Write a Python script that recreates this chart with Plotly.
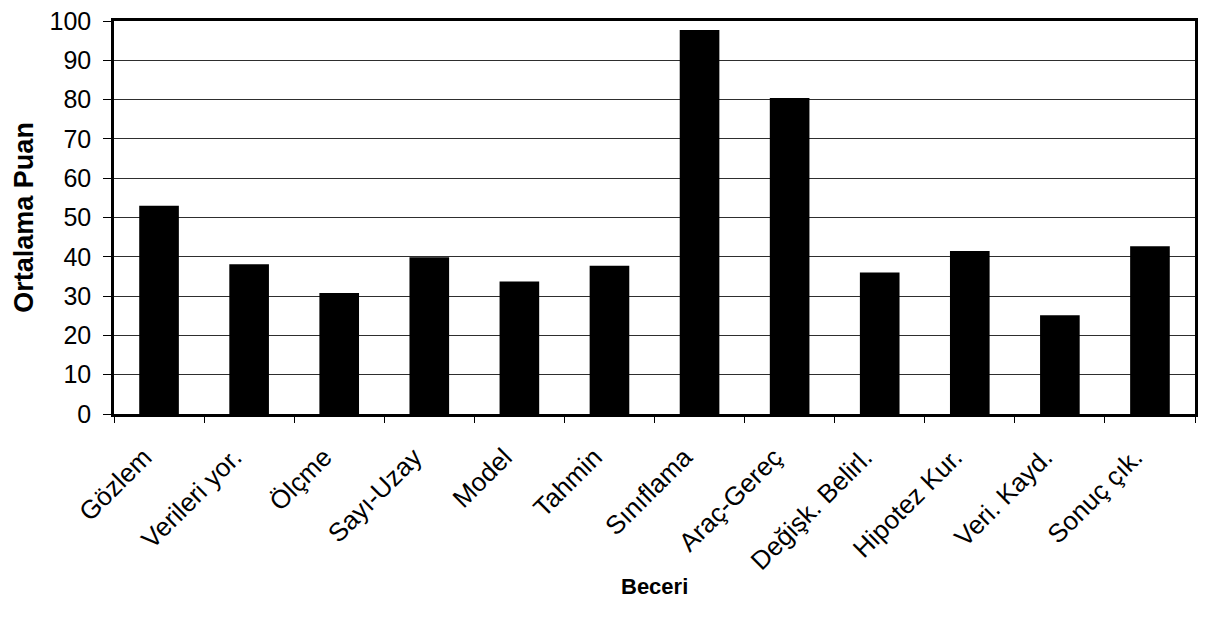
import plotly.graph_objects as go

# Mean score per science process skill
skills = [
    "Gözlem", "Verileri yor.", "Ölçme", "Sayı-Uzay", "Model", "Tahmin",
    "Sınıflama", "Araç-Gereç", "Değişk. Belirl.", "Hipotez Kur.",
    "Veri. Kayd.", "Sonuç çık.",
]
mean_scores = [53.0, 38.1, 30.8, 39.9, 33.7, 37.7, 97.7, 80.4, 36.0, 41.5, 25.1, 42.7]

y_ticks = list(range(0, 101, 10))

FONT = "Liberation Sans, Arial, sans-serif"

fig = go.Figure(
    go.Bar(
        x=skills,
        y=mean_scores,
        marker=dict(color="black", line=dict(width=0)),
        width=0.44,
    )
)

fig.update_layout(
    width=1205,
    height=624,
    margin=dict(l=114, r=7, t=17, b=210),
    paper_bgcolor="white",
    plot_bgcolor="white",
    showlegend=False,
    font=dict(family=FONT, color="black"),
)

fig.update_yaxes(
    range=[0, 100],
    tickvals=y_ticks,
    ticks="outside",
    ticklen=8,
    tickwidth=1,
    tickcolor="black",
    tickfont=dict(size=25, family=FONT, color="black"),
    ticklabelstandoff=7,
    showgrid=True,
    gridcolor="#2e2e2e",
    gridwidth=1,
    showline=True,
    linecolor="black",
    linewidth=2.5,
    mirror=True,
    zeroline=False,
)

fig.update_xaxes(
    type="category",
    tickson="boundaries",
    ticks="outside",
    ticklen=6,
    tickwidth=1,
    tickcolor="black",
    tickangle=-45,
    tickfont=dict(size=26, family=FONT, color="black"),
    ticklabelstandoff=15,
    ticklabelshift=-15,
    showline=True,
    linecolor="black",
    linewidth=2.5,
    mirror=True,
    showgrid=False,
)

# Axis titles
fig.add_annotation(
    text="<b>Ortalama Puan</b>", textangle=-90,
    xref="paper", yref="paper", x=-0.084, y=0.5,
    xanchor="center", yanchor="middle", showarrow=False,
    font=dict(size=27, family=FONT, color="black"),
)
fig.add_annotation(
    text="<b>Beceri</b>",
    xref="paper", yref="paper", x=0.5, y=-0.438,
    xanchor="center", yanchor="middle", showarrow=False,
    font=dict(size=22, family=FONT, color="black"),
)

fig.write_html("out.html")
